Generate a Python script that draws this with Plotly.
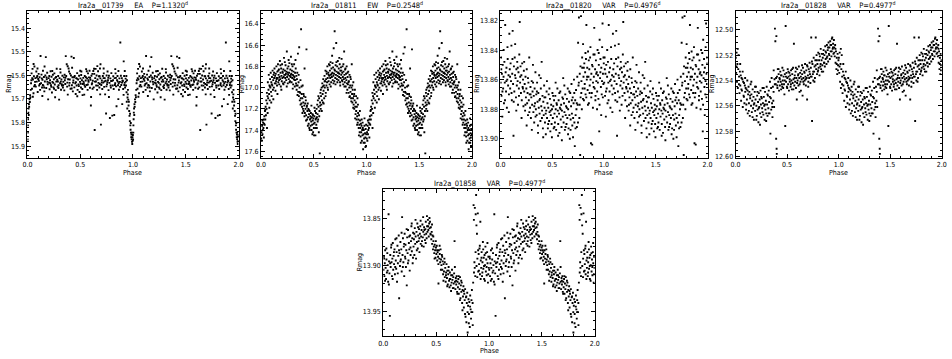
import plotly.graph_objects as go

W, H = 952, 359
FONT = "Liberation Sans Narrow, DejaVu Sans Condensed, Liberation Sans, sans-serif"

# folded light curves, one cycle each: (phase, R mag). plotted twice (phase 0-2)
lc_01739 = [
    (0.001, 15.872), (0.003, 15.843), (0.004, 15.812), (0.006, 15.786), (0.008, 15.758), (0.010, 15.741), (0.012, 15.768),
    (0.014, 15.723), (0.016, 15.734), (0.019, 15.702), (0.022, 15.713), (0.025, 15.684), (0.028, 15.693), (0.031, 15.662),
    (0.034, 15.634), (0.039, 15.592), (0.043, 15.657), (0.048, 15.573), (0.052, 15.618), (0.057, 15.676), (0.061, 15.604), (0.066, 15.563), (0.070, 15.641), (0.075, 15.612),
    (0.079, 15.648), (0.084, 15.584), (0.088, 15.627), (0.093, 15.603), (0.097, 15.671), (0.102, 15.616), (0.106, 15.594), (0.111, 15.643), (0.115, 15.608), (0.120, 15.662),
    (0.124, 15.518), (0.129, 15.633), (0.133, 15.597), (0.138, 15.652), (0.142, 15.619), (0.147, 15.581), (0.151, 15.644), (0.156, 15.607), (0.160, 15.668), (0.165, 15.626),
    (0.169, 15.601), (0.174, 15.523), (0.178, 15.654), (0.183, 15.617), (0.187, 15.589), (0.192, 15.638), (0.196, 15.702), (0.201, 15.612), (0.205, 15.631), (0.210, 15.659),
    (0.214, 15.621), (0.219, 15.583), (0.223, 15.642), (0.228, 15.606), (0.232, 15.673), (0.237, 15.628), (0.241, 15.598), (0.246, 15.651), (0.250, 15.617), (0.255, 15.592),
    (0.259, 15.639), (0.264, 15.611), (0.268, 15.663), (0.273, 15.627), (0.277, 15.572), (0.282, 15.619), (0.286, 15.648), (0.291, 15.603), (0.295, 15.642), (0.300, 15.703),
    (0.304, 15.612), (0.309, 15.634), (0.313, 15.588), (0.318, 15.661), (0.322, 15.618), (0.327, 15.643), (0.331, 15.602), (0.336, 15.652), (0.340, 15.628), (0.345, 15.609),
    (0.349, 15.664), (0.354, 15.621), (0.358, 15.637), (0.363, 15.519), (0.367, 15.603), (0.372, 15.553), (0.376, 15.648), (0.381, 15.562), (0.385, 15.617), (0.390, 15.571),
    (0.394, 15.584), (0.399, 15.632), (0.403, 15.593), (0.408, 15.657), (0.412, 15.601), (0.417, 15.521), (0.421, 15.642), (0.426, 15.608), (0.430, 15.668), (0.435, 15.622),
    (0.439, 15.527), (0.444, 15.651), (0.448, 15.603), (0.453, 15.634), (0.457, 15.679), (0.462, 15.612), (0.466, 15.643), (0.471, 15.591), (0.475, 15.662), (0.480, 15.618),
    (0.484, 15.639), (0.489, 15.602), (0.493, 15.671), (0.498, 15.628), (0.502, 15.613), (0.507, 15.652), (0.511, 15.584), (0.516, 15.621), (0.520, 15.658), (0.525, 15.637),
    (0.529, 15.611), (0.534, 15.634), (0.538, 15.682), (0.543, 15.603), (0.547, 15.649), (0.552, 15.622), (0.556, 15.574), (0.561, 15.641), (0.565, 15.613), (0.570, 15.662),
    (0.574, 15.592), (0.579, 15.628), (0.583, 15.609), (0.588, 15.581), (0.592, 15.653), (0.597, 15.619), (0.601, 15.728), (0.606, 15.602), (0.610, 15.638), (0.615, 15.594),
    (0.619, 15.623), (0.624, 15.582), (0.628, 15.651), (0.633, 15.594), (0.637, 15.832), (0.642, 15.612), (0.646, 15.573), (0.651, 15.643), (0.655, 15.601), (0.660, 15.662),
    (0.664, 15.618), (0.669, 15.583), (0.673, 15.632), (0.678, 15.604), (0.682, 15.652), (0.687, 15.571), (0.691, 15.613), (0.696, 15.809), (0.700, 15.641), (0.705, 15.622),
    (0.709, 15.658), (0.714, 15.603), (0.718, 15.631), (0.723, 15.592), (0.727, 15.649), (0.732, 15.612), (0.736, 15.681), (0.741, 15.623), (0.745, 15.762), (0.750, 15.601),
    (0.754, 15.638), (0.759, 15.584), (0.763, 15.621), (0.768, 15.663), (0.772, 15.602), (0.777, 15.632), (0.781, 15.781), (0.786, 15.613), (0.790, 15.652), (0.795, 15.591),
    (0.799, 15.624), (0.804, 15.771), (0.808, 15.643), (0.813, 15.604), (0.817, 15.658), (0.822, 15.768), (0.826, 15.612), (0.831, 15.634), (0.835, 15.592), (0.840, 15.647),
    (0.844, 15.731), (0.849, 15.621), (0.853, 15.603), (0.858, 15.642), (0.862, 15.582), (0.867, 15.661), (0.871, 15.613), (0.876, 15.628), (0.880, 15.461), (0.885, 15.602),
    (0.889, 15.641), (0.894, 15.612), (0.898, 15.722), (0.903, 15.624), (0.907, 15.658), (0.912, 15.541), (0.916, 15.603), (0.921, 15.632), (0.925, 15.652), (0.930, 15.614),
    (0.934, 15.643), (0.939, 15.672), (0.943, 15.621), (0.948, 15.694), (0.952, 15.662),
    (0.045, 15.612), (0.072, 15.628), (0.108, 15.623), (0.145, 15.641), (0.181, 15.609), (0.216, 15.634), (0.252, 15.657), (0.288, 15.626), (0.324, 15.638),
    (0.360, 15.611), (0.396, 15.643), (0.432, 15.631), (0.468, 15.614), (0.505, 15.636), (0.541, 15.642), (0.577, 15.621), (0.613, 15.633), (0.649, 15.626),
    (0.685, 15.637), (0.721, 15.612), (0.757, 15.629), (0.793, 15.624), (0.829, 15.641), (0.865, 15.634), (0.901, 15.622), (0.937, 15.603),
    (0.058, 15.552), (0.095, 15.571), (0.162, 15.563), (0.235, 15.582), (0.311, 15.574), (0.423, 15.568), (0.500, 15.581), (0.562, 15.583), (0.631, 15.572),
    (0.662, 15.561), (0.692, 15.553), (0.722, 15.571), (0.832, 15.574), (0.922, 15.582),
    (0.051, 15.691), (0.141, 15.688), (0.262, 15.693), (0.382, 15.682), (0.472, 15.689), (0.522, 15.684), (0.603, 15.692), (0.689, 15.681), (0.772, 15.692),
    (0.861, 15.701), (0.911, 15.683), (0.941, 15.712), (0.946, 15.741),
    (0.955, 15.703), (0.958, 15.728), (0.961, 15.712), (0.964, 15.751), (0.967, 15.772), (0.970, 15.794), (0.972, 15.763), (0.975, 15.812), (0.977, 15.831),
    (0.979, 15.802), (0.981, 15.843), (0.983, 15.862), (0.985, 15.851), (0.987, 15.871), (0.989, 15.843), (0.991, 15.882), (0.993, 15.891), (0.995, 15.862),
    (0.997, 15.878), (0.999, 15.853),
]
lc_01739_b = [
    (0.037, 15.621), (0.063, 15.647), (0.089, 15.609), (0.118, 15.637), (0.136, 15.613), (0.158, 15.652), (0.189, 15.628), (0.207, 15.603), (0.226, 15.649), (0.244, 15.632),
    (0.271, 15.607), (0.293, 15.654), (0.316, 15.627), (0.338, 15.642), (0.352, 15.598), (0.378, 15.631), (0.401, 15.618), (0.419, 15.656), (0.441, 15.608), (0.459, 15.629),
    (0.487, 15.646), (0.509, 15.599), (0.531, 15.627), (0.554, 15.608), (0.572, 15.639), (0.594, 15.611), (0.617, 15.657), (0.639, 15.627), (0.667, 15.644), (0.684, 15.604),
    (0.703, 15.631), (0.729, 15.626), (0.748, 15.647), (0.766, 15.611), (0.788, 15.643), (0.811, 15.621), (0.838, 15.611), (0.856, 15.627), (0.878, 15.649), (0.896, 15.631),
    (0.918, 15.641), (0.932, 15.627), (0.951, 15.681),
]

lc_01811 = [
    (0.002, 17.48), (0.005, 17.42), (0.008, 17.50), (0.011, 17.36), (0.014, 17.44), (0.017, 17.40), (0.020, 17.33), (0.023, 17.38), (0.026, 17.30), (0.029, 17.34),
    (0.032, 17.27), (0.035, 17.35), (0.038, 17.22), (0.041, 17.30), (0.044, 17.18), (0.047, 17.26), (0.050, 17.12), (0.053, 17.20), (0.056, 17.05), (0.059, 17.15),
    (0.062, 17.08), (0.065, 16.95), (0.068, 17.10), (0.071, 17.02), (0.074, 16.88), (0.077, 17.06), (0.080, 16.98), (0.083, 17.12), (0.086, 16.92), (0.089, 17.00),
    (0.092, 16.86), (0.095, 17.04), (0.098, 16.95), (0.101, 17.08), (0.104, 16.90), (0.107, 16.98), (0.110, 16.84), (0.113, 17.02), (0.116, 16.93), (0.119, 16.88),
    (0.122, 17.00), (0.125, 16.91), (0.128, 16.82), (0.131, 16.96), (0.134, 16.89), (0.137, 17.03), (0.140, 16.87), (0.143, 16.94), (0.146, 16.80), (0.149, 16.92),
    (0.152, 16.98), (0.155, 16.85), (0.158, 16.91), (0.161, 16.78), (0.164, 16.95), (0.167, 16.88), (0.170, 16.83), (0.173, 16.97), (0.176, 16.90), (0.179, 16.75),
    (0.182, 16.92), (0.185, 16.86), (0.188, 16.99), (0.191, 16.82), (0.194, 16.89), (0.197, 16.94), (0.200, 16.78), (0.203, 16.91), (0.206, 16.86), (0.209, 16.96),
    (0.212, 16.83), (0.215, 16.90), (0.218, 16.72), (0.221, 16.88), (0.224, 16.95), (0.227, 16.84), (0.230, 16.91), (0.233, 16.79), (0.236, 16.87), (0.239, 16.93),
    (0.242, 16.85), (0.245, 16.66), (0.248, 16.90), (0.251, 16.82), (0.254, 16.96), (0.257, 16.88), (0.260, 16.80), (0.263, 16.92), (0.266, 16.86), (0.269, 16.77),
    (0.272, 16.89), (0.275, 16.94), (0.278, 16.83), (0.281, 16.90), (0.284, 16.71), (0.287, 16.87), (0.290, 16.95), (0.293, 16.84), (0.296, 16.91), (0.299, 16.80),
    (0.302, 16.88), (0.305, 16.97), (0.308, 16.85), (0.311, 16.92), (0.314, 16.78), (0.317, 16.90), (0.320, 16.99), (0.323, 16.86), (0.326, 16.93), (0.329, 16.82),
    (0.332, 16.96), (0.335, 16.89), (0.338, 17.02), (0.341, 16.92), (0.344, 16.86), (0.347, 16.98), (0.350, 16.68), (0.353, 17.04), (0.356, 16.95), (0.359, 17.08),
    (0.362, 16.62), (0.365, 17.00), (0.368, 17.12), (0.371, 17.05), (0.374, 16.93), (0.377, 17.10), (0.380, 16.45), (0.383, 17.15), (0.386, 17.06), (0.389, 17.18),
    (0.392, 17.10), (0.395, 16.98), (0.398, 17.20), (0.401, 17.14), (0.404, 17.22), (0.407, 17.08), (0.410, 17.17), (0.413, 16.82), (0.416, 17.24), (0.419, 17.15),
    (0.422, 17.20), (0.425, 17.12), (0.428, 17.26), (0.431, 16.64), (0.434, 17.18), (0.437, 17.30), (0.440, 17.22), (0.443, 17.15), (0.446, 17.28), (0.449, 17.20),
    (0.452, 17.34), (0.455, 17.25), (0.458, 17.38), (0.461, 17.22), (0.464, 17.30), (0.467, 17.27), (0.470, 17.36), (0.473, 17.24), (0.476, 17.32), (0.479, 17.40),
    (0.482, 17.28), (0.485, 17.35), (0.488, 17.25), (0.491, 17.31), (0.494, 17.42), (0.497, 17.29), (0.500, 17.34), (0.503, 17.45), (0.506, 17.27), (0.509, 17.33),
    (0.512, 17.22), (0.515, 17.38), (0.518, 17.30), (0.521, 17.24), (0.524, 17.35), (0.527, 17.20), (0.530, 17.28), (0.533, 17.16), (0.536, 17.25), (0.539, 17.12),
    (0.542, 17.30), (0.545, 17.18), (0.548, 17.42), (0.551, 17.10), (0.554, 17.22), (0.557, 17.62), (0.560, 17.14), (0.563, 17.05), (0.566, 17.20), (0.569, 17.08),
    (0.572, 17.16), (0.575, 17.00), (0.578, 17.12), (0.581, 16.96), (0.584, 17.06), (0.587, 17.14), (0.590, 16.92), (0.593, 17.03), (0.596, 16.98), (0.599, 17.10),
    (0.602, 16.89), (0.605, 17.00), (0.608, 16.94), (0.611, 16.84), (0.614, 17.05), (0.617, 16.92), (0.620, 16.98), (0.623, 16.87), (0.626, 16.95), (0.629, 16.80),
    (0.632, 16.91), (0.635, 17.02), (0.638, 16.86), (0.641, 16.94), (0.644, 16.78), (0.647, 16.89), (0.650, 16.97), (0.653, 16.84), (0.656, 16.91), (0.659, 16.76),
    (0.662, 16.88), (0.665, 16.95), (0.668, 16.82), (0.671, 16.90), (0.674, 16.70), (0.677, 16.86), (0.680, 16.93), (0.683, 16.81), (0.686, 16.89), (0.689, 16.63),
    (0.692, 16.87), (0.695, 16.94), (0.698, 16.47), (0.701, 16.84), (0.704, 16.91), (0.707, 16.79), (0.710, 16.88), (0.713, 16.58), (0.716, 16.85), (0.719, 16.92),
    (0.722, 16.80), (0.725, 16.89), (0.728, 16.75), (0.731, 16.86), (0.734, 16.93), (0.737, 16.82), (0.740, 16.90), (0.743, 16.87), (0.746, 16.78), (0.749, 16.95),
    (0.752, 16.84), (0.755, 16.91), (0.758, 16.81), (0.761, 16.88), (0.764, 16.73), (0.767, 16.93), (0.770, 16.86), (0.773, 16.80), (0.776, 16.90), (0.779, 16.97),
    (0.782, 16.85), (0.785, 16.92), (0.788, 16.66), (0.791, 16.88), (0.794, 16.95), (0.797, 16.83), (0.800, 16.91), (0.803, 16.99), (0.806, 16.87), (0.809, 16.93),
    (0.812, 16.80), (0.815, 16.96), (0.818, 17.02), (0.821, 16.90), (0.824, 16.97), (0.827, 16.85), (0.830, 17.05), (0.833, 16.94), (0.836, 17.00), (0.839, 16.88),
    (0.842, 17.08), (0.845, 16.98), (0.848, 17.04), (0.851, 16.92), (0.854, 17.10), (0.857, 17.00), (0.860, 16.78), (0.863, 17.06), (0.866, 17.14), (0.869, 17.02),
    (0.872, 17.10), (0.875, 16.95), (0.878, 17.16), (0.881, 17.08), (0.884, 17.20), (0.887, 17.12), (0.890, 17.02), (0.893, 17.18), (0.896, 17.25), (0.899, 17.14),
    (0.902, 17.22), (0.905, 17.30), (0.908, 17.18), (0.911, 17.27), (0.914, 17.10), (0.917, 17.33), (0.920, 17.24), (0.923, 17.30), (0.926, 17.38), (0.929, 17.26),
    (0.932, 17.35), (0.935, 17.42), (0.938, 17.31), (0.941, 17.38), (0.944, 17.46), (0.947, 17.34), (0.950, 17.42), (0.953, 17.36), (0.956, 17.50), (0.959, 17.40),
    (0.962, 17.45), (0.965, 17.38), (0.968, 17.58), (0.971, 17.44), (0.974, 17.40), (0.977, 17.48), (0.980, 17.36), (0.983, 17.52), (0.986, 17.43), (0.989, 17.47),
    (0.992, 17.39), (0.995, 17.55), (0.998, 17.44),
]
lc_01811_b = [
    (0.013, 17.31), (0.027, 17.47), (0.041, 17.21), (0.057, 17.38), (0.063, 17.24), (0.079, 17.19), (0.085, 16.99), (0.097, 17.14), (0.103, 16.97), (0.117, 17.11),
    (0.124, 16.86), (0.139, 16.96), (0.147, 16.91), (0.156, 17.06), (0.163, 16.84), (0.171, 16.93), (0.184, 16.79), (0.193, 17.02), (0.204, 16.85), (0.213, 16.97),
    (0.226, 16.76), (0.231, 16.88), (0.244, 16.99), (0.253, 16.86), (0.262, 16.74), (0.271, 16.95), (0.283, 16.88), (0.292, 16.78), (0.301, 17.01), (0.309, 16.89),
    (0.318, 16.93), (0.327, 16.74), (0.336, 16.98), (0.346, 17.07), (0.357, 16.88), (0.366, 17.04), (0.375, 17.16), (0.384, 16.99), (0.393, 17.24), (0.403, 17.06),
    (0.412, 17.27), (0.421, 17.09), (0.427, 17.31), (0.436, 17.17), (0.444, 17.36), (0.453, 17.21), (0.462, 17.40), (0.471, 17.29), (0.478, 17.17), (0.487, 17.44),
    (0.493, 17.26), (0.501, 17.38), (0.507, 17.19), (0.516, 17.45), (0.522, 17.29), (0.529, 17.38), (0.537, 17.32), (0.544, 17.08), (0.552, 17.27), (0.561, 17.17),
    (0.567, 17.02), (0.576, 17.22), (0.586, 16.99), (0.594, 17.15), (0.603, 16.94), (0.612, 17.08), (0.621, 16.85), (0.631, 17.00), (0.642, 16.88), (0.651, 16.79),
    (0.661, 16.99), (0.669, 16.87), (0.678, 16.77), (0.687, 16.96), (0.696, 16.83), (0.706, 16.97), (0.715, 16.76), (0.724, 16.95), (0.733, 16.86), (0.742, 16.72),
    (0.751, 16.98), (0.761, 16.84), (0.771, 16.94), (0.781, 16.78), (0.791, 16.99), (0.801, 16.82), (0.811, 17.05), (0.820, 16.86), (0.829, 16.95), (0.838, 17.09),
    (0.847, 16.90), (0.856, 17.13), (0.865, 16.98), (0.874, 17.19), (0.883, 17.06), (0.892, 17.29), (0.901, 17.08), (0.911, 17.35), (0.919, 17.16), (0.928, 17.45),
    (0.937, 17.22), (0.946, 17.52), (0.954, 17.30), (0.963, 17.33), (0.972, 17.52), (0.981, 17.29), (0.990, 17.56), (0.996, 17.35),
]

lc_01820 = [
    (0.002, 13.862), (0.006, 13.845), (0.010, 13.871), (0.014, 13.856), (0.018, 13.885), (0.022, 13.850), (0.026, 13.866), (0.030, 13.858), (0.034, 13.876), (0.038, 13.848),
    (0.042, 13.862), (0.046, 13.823), (0.050, 13.855), (0.054, 13.868), (0.058, 13.852), (0.062, 13.879), (0.066, 13.860), (0.070, 13.846), (0.074, 13.864), (0.078, 13.857),
    (0.082, 13.870), (0.086, 13.829), (0.090, 13.853), (0.094, 13.866), (0.098, 13.849), (0.102, 13.861), (0.106, 13.837), (0.110, 13.874), (0.114, 13.856), (0.118, 13.827),
    (0.122, 13.863), (0.126, 13.898), (0.130, 13.851), (0.134, 13.868), (0.138, 13.845), (0.142, 13.836), (0.146, 13.859), (0.150, 13.872), (0.154, 13.853), (0.158, 13.864),
    (0.162, 13.848), (0.166, 13.861), (0.170, 13.877), (0.174, 13.855), (0.178, 13.866), (0.182, 13.843), (0.186, 13.821), (0.190, 13.862), (0.194, 13.851), (0.198, 13.869),
    (0.202, 13.857), (0.206, 13.874), (0.210, 13.849), (0.214, 13.865), (0.218, 13.860), (0.222, 13.878), (0.226, 13.854), (0.230, 13.868), (0.234, 13.863), (0.238, 13.881),
    (0.242, 13.858), (0.246, 13.872), (0.250, 13.866), (0.254, 13.853), (0.258, 13.876), (0.262, 13.869), (0.266, 13.884), (0.270, 13.862), (0.274, 13.874), (0.278, 13.845),
    (0.282, 13.870), (0.286, 13.879), (0.290, 13.865), (0.294, 13.886), (0.298, 13.872), (0.302, 13.861), (0.306, 13.877), (0.310, 13.868), (0.314, 13.850), (0.318, 13.882),
    (0.322, 13.871), (0.326, 13.889), (0.330, 13.866), (0.334, 13.876), (0.338, 13.855), (0.342, 13.880), (0.346, 13.870), (0.350, 13.884), (0.354, 13.862), (0.358, 13.875),
    (0.362, 13.891), (0.366, 13.869), (0.370, 13.879), (0.374, 13.857), (0.378, 13.883), (0.382, 13.873), (0.386, 13.888), (0.390, 13.866), (0.394, 13.878), (0.398, 13.848),
    (0.402, 13.881), (0.406, 13.871), (0.410, 13.893), (0.414, 13.875), (0.418, 13.884), (0.422, 13.864), (0.426, 13.879), (0.430, 13.889), (0.434, 13.872), (0.438, 13.897),
    (0.442, 13.881), (0.446, 13.868), (0.450, 13.886), (0.454, 13.876), (0.458, 13.893), (0.462, 13.879), (0.466, 13.870), (0.470, 13.888), (0.474, 13.882), (0.478, 13.873),
    (0.482, 13.895), (0.486, 13.884), (0.490, 13.877), (0.494, 13.890), (0.498, 13.880), (0.502, 13.869), (0.506, 13.886), (0.510, 13.878), (0.514, 13.893), (0.518, 13.874),
    (0.522, 13.883), (0.526, 13.889), (0.530, 13.871), (0.534, 13.880), (0.538, 13.894), (0.542, 13.876), (0.546, 13.885), (0.550, 13.866), (0.554, 13.881), (0.558, 13.890),
    (0.562, 13.874), (0.566, 13.883), (0.570, 13.896), (0.574, 13.879), (0.578, 13.868), (0.582, 13.887), (0.586, 13.877), (0.590, 13.892), (0.594, 13.881), (0.598, 13.872),
    (0.602, 13.885), (0.606, 13.859), (0.610, 13.889), (0.614, 13.876), (0.618, 13.882), (0.622, 13.894), (0.626, 13.870), (0.630, 13.884), (0.634, 13.878), (0.638, 13.890),
    (0.642, 13.873), (0.646, 13.886), (0.650, 13.866), (0.654, 13.880), (0.658, 13.893), (0.662, 13.875), (0.666, 13.884), (0.670, 13.900), (0.674, 13.869), (0.678, 13.887),
    (0.682, 13.878), (0.686, 13.863), (0.690, 13.883), (0.694, 13.891), (0.698, 13.872), (0.702, 13.886), (0.706, 13.876), (0.710, 13.860), (0.714, 13.889), (0.718, 13.905),
    (0.722, 13.874), (0.726, 13.884), (0.730, 13.867), (0.734, 13.880), (0.738, 13.892), (0.742, 13.858), (0.746, 13.877), (0.750, 13.835), (0.754, 13.864), (0.758, 13.818),
    (0.762, 13.886), (0.766, 13.856), (0.770, 13.911), (0.774, 13.872), (0.778, 13.817), (0.782, 13.861), (0.786, 13.880), (0.790, 13.852), (0.794, 13.866), (0.798, 13.836),
    (0.802, 13.858), (0.806, 13.874), (0.810, 13.849), (0.814, 13.863), (0.818, 13.855), (0.822, 13.870), (0.826, 13.846), (0.830, 13.823), (0.834, 13.860), (0.838, 13.852),
    (0.842, 13.867), (0.846, 13.841), (0.850, 13.858), (0.854, 13.876), (0.858, 13.853), (0.862, 13.864), (0.866, 13.845), (0.870, 13.860), (0.874, 13.903), (0.878, 13.856),
    (0.882, 13.869), (0.886, 13.904), (0.890, 13.851), (0.894, 13.862), (0.898, 13.843), (0.902, 13.858), (0.906, 13.825), (0.910, 13.866), (0.914, 13.853), (0.918, 13.871),
    (0.922, 13.847), (0.926, 13.861), (0.930, 13.855), (0.934, 13.868), (0.938, 13.840), (0.942, 13.857), (0.946, 13.873), (0.950, 13.850), (0.954, 13.895), (0.958, 13.833),
    (0.962, 13.859), (0.966, 13.846), (0.970, 13.865), (0.974, 13.852), (0.978, 13.870), (0.982, 13.838), (0.986, 13.822), (0.990, 13.856), (0.994, 13.863), (0.998, 13.849),
]
lc_01820_b = [
    (0.008, 13.853), (0.019, 13.868), (0.031, 13.840), (0.044, 13.874), (0.057, 13.861), (0.068, 13.838), (0.081, 13.882), (0.093, 13.858), (0.107, 13.869), (0.116, 13.846),
    (0.128, 13.875), (0.141, 13.857), (0.153, 13.881), (0.167, 13.852), (0.179, 13.871), (0.191, 13.858), (0.204, 13.886), (0.217, 13.866), (0.229, 13.848), (0.241, 13.877),
    (0.253, 13.891), (0.266, 13.859), (0.279, 13.882), (0.291, 13.870), (0.303, 13.894), (0.315, 13.862), (0.327, 13.878), (0.339, 13.885), (0.352, 13.868), (0.363, 13.896),
    (0.376, 13.874), (0.389, 13.859), (0.401, 13.886), (0.413, 13.899), (0.425, 13.872), (0.437, 13.883), (0.449, 13.861), (0.461, 13.890), (0.473, 13.866), (0.485, 13.881),
    (0.497, 13.899), (0.509, 13.871), (0.521, 13.892), (0.533, 13.862), (0.545, 13.877), (0.557, 13.898), (0.569, 13.869), (0.581, 13.880), (0.593, 13.901), (0.605, 13.873),
    (0.617, 13.864), (0.629, 13.892), (0.641, 13.879), (0.653, 13.897), (0.665, 13.868), (0.677, 13.894), (0.689, 13.874), (0.701, 13.899), (0.713, 13.869), (0.725, 13.893),
    (0.737, 13.876), (0.749, 13.889), (0.757, 13.862), (0.765, 13.877), (0.773, 13.851), (0.781, 13.869), (0.789, 13.845), (0.797, 13.873), (0.805, 13.852), (0.813, 13.866),
    (0.821, 13.842), (0.829, 13.872), (0.837, 13.858), (0.845, 13.877), (0.853, 13.847), (0.861, 13.869), (0.869, 13.838), (0.877, 13.872), (0.885, 13.850), (0.893, 13.879),
    (0.901, 13.865), (0.909, 13.843), (0.917, 13.874), (0.925, 13.856), (0.933, 13.880), (0.941, 13.862), (0.949, 13.842), (0.957, 13.877), (0.965, 13.855), (0.973, 13.884),
    (0.981, 13.861), (0.989, 13.872), (0.995, 13.845),
]

lc_01828 = [
    (0.002, 12.522), (0.006, 12.534), (0.010, 12.518), (0.014, 12.541), (0.018, 12.527), (0.022, 12.546), (0.026, 12.531), (0.030, 12.520), (0.034, 12.537), (0.038, 12.550),
    (0.042, 12.533), (0.046, 12.544), (0.050, 12.536), (0.054, 12.556), (0.058, 12.538), (0.062, 12.548), (0.066, 12.539), (0.070, 12.561), (0.074, 12.541), (0.078, 12.552),
    (0.082, 12.542), (0.086, 12.558), (0.090, 12.544), (0.094, 12.549), (0.098, 12.546), (0.102, 12.563), (0.106, 12.547), (0.110, 12.555), (0.114, 12.540), (0.118, 12.566),
    (0.122, 12.551), (0.126, 12.545), (0.130, 12.558), (0.134, 12.549), (0.138, 12.568), (0.142, 12.554), (0.146, 12.543), (0.150, 12.560), (0.154, 12.551), (0.158, 12.565),
    (0.162, 12.556), (0.166, 12.547), (0.170, 12.562), (0.174, 12.553), (0.178, 12.571), (0.182, 12.558), (0.186, 12.549), (0.190, 12.564), (0.194, 12.555), (0.198, 12.545),
    (0.202, 12.560), (0.206, 12.568), (0.210, 12.552), (0.214, 12.563), (0.218, 12.557), (0.222, 12.573), (0.226, 12.550), (0.230, 12.561), (0.234, 12.555), (0.238, 12.566),
    (0.242, 12.548), (0.246, 12.559), (0.250, 12.569), (0.254, 12.554), (0.258, 12.562), (0.262, 12.546), (0.266, 12.558), (0.270, 12.567), (0.274, 12.553), (0.278, 12.560),
    (0.282, 12.571), (0.286, 12.549), (0.290, 12.563), (0.294, 12.556), (0.298, 12.566), (0.302, 12.545), (0.306, 12.559), (0.310, 12.568), (0.314, 12.552), (0.318, 12.562),
    (0.322, 12.548), (0.326, 12.557), (0.330, 12.566), (0.334, 12.541), (0.338, 12.582), (0.342, 12.554), (0.346, 12.563), (0.350, 12.538), (0.354, 12.558), (0.358, 12.569),
    (0.362, 12.545), (0.366, 12.556), (0.370, 12.532), (0.374, 12.561), (0.378, 12.539), (0.382, 12.499), (0.386, 12.509), (0.390, 12.543), (0.394, 12.586), (0.396, 12.505),
    (0.398, 12.594), (0.400, 12.598), (0.402, 12.537), (0.406, 12.546), (0.410, 12.531), (0.414, 12.541), (0.418, 12.535), (0.422, 12.548), (0.426, 12.538), (0.430, 12.544),
    (0.434, 12.533), (0.438, 12.541), (0.442, 12.547), (0.446, 12.536), (0.450, 12.543), (0.454, 12.530), (0.458, 12.540), (0.462, 12.546), (0.466, 12.537), (0.470, 12.543),
    (0.474, 12.551), (0.478, 12.535), (0.482, 12.576), (0.486, 12.497), (0.490, 12.541), (0.494, 12.534), (0.498, 12.545), (0.502, 12.538), (0.506, 12.531), (0.510, 12.543),
    (0.514, 12.537), (0.518, 12.548), (0.522, 12.534), (0.526, 12.541), (0.530, 12.536), (0.534, 12.545), (0.538, 12.532), (0.542, 12.540), (0.546, 12.547), (0.550, 12.535),
    (0.554, 12.542), (0.558, 12.530), (0.562, 12.539), (0.566, 12.511), (0.570, 12.544), (0.574, 12.536), (0.578, 12.541), (0.582, 12.533), (0.586, 12.546), (0.590, 12.538),
    (0.594, 12.555), (0.598, 12.531), (0.602, 12.540), (0.606, 12.536), (0.610, 12.544), (0.614, 12.529), (0.618, 12.538), (0.622, 12.543), (0.626, 12.534), (0.630, 12.541),
    (0.634, 12.548), (0.638, 12.532), (0.642, 12.539), (0.646, 12.535), (0.650, 12.552), (0.654, 12.530), (0.658, 12.538), (0.662, 12.543), (0.666, 12.533), (0.670, 12.540),
    (0.674, 12.527), (0.678, 12.537), (0.682, 12.544), (0.686, 12.532), (0.690, 12.538), (0.694, 12.555), (0.698, 12.529), (0.702, 12.536), (0.706, 12.541), (0.710, 12.531),
    (0.714, 12.538), (0.718, 12.526), (0.722, 12.535), (0.726, 12.542), (0.730, 12.530), (0.734, 12.506), (0.738, 12.537), (0.742, 12.572), (0.746, 12.527), (0.750, 12.535),
    (0.754, 12.540), (0.758, 12.522), (0.762, 12.533), (0.766, 12.529), (0.770, 12.538), (0.774, 12.524), (0.778, 12.506), (0.782, 12.531), (0.786, 12.520), (0.790, 12.535),
    (0.794, 12.527), (0.798, 12.533), (0.802, 12.518), (0.806, 12.530), (0.810, 12.524), (0.814, 12.536), (0.818, 12.521), (0.822, 12.529), (0.826, 12.515), (0.830, 12.531),
    (0.834, 12.524), (0.838, 12.519), (0.842, 12.528), (0.846, 12.522), (0.850, 12.533), (0.854, 12.516), (0.858, 12.526), (0.862, 12.520), (0.866, 12.529), (0.870, 12.513),
    (0.874, 12.523), (0.878, 12.518), (0.882, 12.527), (0.886, 12.512), (0.890, 12.521), (0.894, 12.516), (0.898, 12.525), (0.902, 12.510), (0.906, 12.519), (0.910, 12.514),
    (0.914, 12.523), (0.918, 12.509), (0.922, 12.517), (0.926, 12.512), (0.930, 12.521), (0.934, 12.507), (0.938, 12.506), (0.942, 12.515), (0.946, 12.511), (0.950, 12.519),
    (0.954, 12.508), (0.958, 12.514), (0.962, 12.521), (0.966, 12.512), (0.970, 12.526), (0.974, 12.517), (0.978, 12.531), (0.982, 12.522), (0.986, 12.535), (0.990, 12.519),
    (0.994, 12.528), (0.998, 12.524),
]
lc_01828_b = [
    (0.009, 12.529), (0.021, 12.515), (0.033, 12.543), (0.045, 12.527), (0.057, 12.547), (0.069, 12.533), (0.081, 12.553), (0.093, 12.538), (0.105, 12.559), (0.117, 12.548),
    (0.129, 12.564), (0.141, 12.552), (0.153, 12.541), (0.165, 12.569), (0.177, 12.559), (0.189, 12.545), (0.201, 12.571), (0.213, 12.549), (0.225, 12.562), (0.237, 12.575),
    (0.249, 12.553), (0.261, 12.565), (0.273, 12.546), (0.285, 12.559), (0.297, 12.572), (0.309, 12.551), (0.321, 12.566), (0.333, 12.553), (0.345, 12.546), (0.357, 12.561),
    (0.369, 12.549), (0.381, 12.543), (0.393, 12.538), (0.405, 12.544), (0.417, 12.531), (0.429, 12.539), (0.441, 12.536), (0.453, 12.545), (0.465, 12.532), (0.477, 12.540),
    (0.489, 12.537), (0.501, 12.546), (0.513, 12.533), (0.525, 12.539), (0.537, 12.543), (0.549, 12.531), (0.561, 12.547), (0.573, 12.538), (0.585, 12.530), (0.597, 12.542),
    (0.609, 12.535), (0.621, 12.549), (0.633, 12.537), (0.645, 12.528), (0.657, 12.541), (0.669, 12.534), (0.681, 12.539), (0.693, 12.528), (0.705, 12.545), (0.717, 12.533),
    (0.729, 12.537), (0.741, 12.525), (0.753, 12.533), (0.765, 12.541), (0.777, 12.528), (0.789, 12.524), (0.801, 12.532), (0.813, 12.519), (0.825, 12.527), (0.837, 12.533),
    (0.849, 12.519), (0.861, 12.526), (0.873, 12.517), (0.885, 12.522), (0.897, 12.514), (0.909, 12.520), (0.921, 12.512), (0.933, 12.517), (0.945, 12.514), (0.957, 12.518),
    (0.969, 12.515), (0.981, 12.527), (0.993, 12.532),
]

lc_01858 = [
    (0.002, 13.905), (0.006, 13.891), (0.010, 13.912), (0.014, 13.898), (0.018, 13.884), (0.022, 13.903), (0.026, 13.915), (0.030, 13.894), (0.034, 13.908), (0.038, 13.887),
    (0.042, 13.900), (0.046, 13.918), (0.050, 13.845), (0.054, 13.896), (0.058, 13.909), (0.062, 13.955), (0.066, 13.889), (0.070, 13.902), (0.074, 13.881), (0.078, 13.897),
    (0.082, 13.912), (0.086, 13.893), (0.090, 13.876), (0.094, 13.905), (0.098, 13.890), (0.102, 13.899), (0.106, 13.883), (0.110, 13.910), (0.114, 13.872), (0.118, 13.895),
    (0.122, 13.904), (0.126, 13.886), (0.130, 13.918), (0.134, 13.879), (0.138, 13.898), (0.142, 13.890), (0.146, 13.868), (0.150, 13.936), (0.154, 13.887), (0.158, 13.901),
    (0.162, 13.875), (0.166, 13.894), (0.170, 13.883), (0.174, 13.907), (0.178, 13.848), (0.182, 13.889), (0.186, 13.871), (0.190, 13.897), (0.194, 13.880), (0.198, 13.912),
    (0.202, 13.866), (0.206, 13.891), (0.210, 13.878), (0.214, 13.902), (0.218, 13.884), (0.222, 13.922), (0.226, 13.870), (0.230, 13.887), (0.234, 13.862), (0.238, 13.895),
    (0.242, 13.876), (0.246, 13.883), (0.250, 13.906), (0.254, 13.868), (0.258, 13.889), (0.262, 13.874), (0.266, 13.858), (0.270, 13.885), (0.274, 13.871), (0.278, 13.898),
    (0.282, 13.865), (0.286, 13.880), (0.290, 13.872), (0.294, 13.889), (0.298, 13.860), (0.302, 13.877), (0.306, 13.869), (0.310, 13.893), (0.314, 13.864), (0.318, 13.875),
    (0.322, 13.855), (0.326, 13.882), (0.330, 13.868), (0.334, 13.874), (0.338, 13.861), (0.342, 13.886), (0.346, 13.866), (0.350, 13.858), (0.354, 13.877), (0.358, 13.869),
    (0.362, 13.862), (0.366, 13.874), (0.370, 13.856), (0.374, 13.870), (0.378, 13.864), (0.382, 13.880), (0.386, 13.859), (0.390, 13.867), (0.394, 13.873), (0.398, 13.861),
    (0.402, 13.853), (0.406, 13.866), (0.410, 13.871), (0.414, 13.858), (0.418, 13.864), (0.422, 13.851), (0.426, 13.862), (0.430, 13.869), (0.434, 13.855), (0.438, 13.860),
    (0.442, 13.853), (0.446, 13.866), (0.450, 13.859), (0.454, 13.872), (0.458, 13.864), (0.462, 13.877), (0.466, 13.868), (0.470, 13.883), (0.474, 13.874), (0.478, 13.880),
    (0.482, 13.887), (0.486, 13.878), (0.490, 13.884), (0.494, 13.892), (0.498, 13.881), (0.502, 13.888), (0.506, 13.879), (0.510, 13.895), (0.514, 13.886), (0.518, 13.891),
    (0.522, 13.920), (0.526, 13.884), (0.530, 13.893), (0.534, 13.888), (0.538, 13.897), (0.542, 13.883), (0.546, 13.894), (0.550, 13.900), (0.554, 13.889), (0.558, 13.905),
    (0.562, 13.896), (0.566, 13.910), (0.570, 13.899), (0.574, 13.907), (0.578, 13.893), (0.582, 13.913), (0.586, 13.903), (0.590, 13.918), (0.594, 13.908), (0.598, 13.899),
    (0.602, 13.914), (0.606, 13.906), (0.610, 13.921), (0.614, 13.910), (0.618, 13.902), (0.622, 13.917), (0.626, 13.924), (0.630, 13.908), (0.634, 13.915), (0.638, 13.922),
    (0.642, 13.911), (0.646, 13.919), (0.650, 13.905), (0.654, 13.916), (0.658, 13.925), (0.662, 13.913), (0.666, 13.920), (0.670, 13.909), (0.674, 13.874), (0.678, 13.918),
    (0.682, 13.926), (0.686, 13.914), (0.690, 13.921), (0.694, 13.912), (0.698, 13.929), (0.702, 13.918), (0.706, 13.924), (0.710, 13.915), (0.714, 13.931), (0.718, 13.920),
    (0.722, 13.926), (0.726, 13.913), (0.730, 13.936), (0.734, 13.922), (0.738, 13.929), (0.742, 13.919), (0.746, 13.941), (0.750, 13.927), (0.754, 13.934), (0.758, 13.923),
    (0.762, 13.946), (0.766, 13.931), (0.770, 13.938), (0.774, 13.926), (0.778, 13.956), (0.782, 13.935), (0.786, 13.962), (0.790, 13.941), (0.794, 13.930), (0.798, 13.973),
    (0.802, 13.944), (0.806, 13.937), (0.810, 13.953), (0.814, 13.940), (0.818, 13.967), (0.822, 13.933), (0.826, 13.948), (0.830, 13.958), (0.834, 13.938), (0.838, 13.927),
    (0.842, 13.951), (0.846, 13.965), (0.850, 13.919), (0.854, 13.835), (0.858, 13.908), (0.862, 13.897), (0.866, 13.838), (0.870, 13.912), (0.874, 13.845), (0.878, 13.824),
    (0.882, 13.901), (0.886, 13.866), (0.890, 13.893), (0.894, 13.844), (0.898, 13.907), (0.902, 13.888), (0.906, 13.899), (0.910, 13.882), (0.914, 13.910), (0.918, 13.853),
    (0.922, 13.895), (0.926, 13.903), (0.930, 13.886), (0.934, 13.912), (0.938, 13.897), (0.942, 13.875), (0.946, 13.904), (0.950, 13.892), (0.954, 13.915), (0.958, 13.889),
    (0.962, 13.900), (0.966, 13.880), (0.970, 13.907), (0.974, 13.894), (0.978, 13.911), (0.982, 13.886), (0.986, 13.898), (0.990, 13.919), (0.994, 13.891), (0.998, 13.903),
]
lc_01858_b = [
    (0.008, 13.893), (0.017, 13.917), (0.029, 13.882), (0.041, 13.906), (0.053, 13.921), (0.065, 13.898), (0.077, 13.878), (0.089, 13.915), (0.101, 13.886), (0.113, 13.902),
    (0.125, 13.871), (0.137, 13.909), (0.149, 13.884), (0.161, 13.896), (0.173, 13.865), (0.185, 13.902), (0.197, 13.877), (0.209, 13.893), (0.221, 13.861), (0.233, 13.898),
    (0.245, 13.869), (0.257, 13.881), (0.269, 13.855), (0.281, 13.892), (0.293, 13.866), (0.305, 13.851), (0.317, 13.884), (0.329, 13.859), (0.341, 13.871), (0.353, 13.852),
    (0.365, 13.879), (0.377, 13.848), (0.389, 13.862), (0.401, 13.876), (0.413, 13.847), (0.425, 13.858), (0.437, 13.849), (0.449, 13.867), (0.461, 13.856), (0.473, 13.869),
    (0.485, 13.893), (0.497, 13.874), (0.509, 13.884), (0.521, 13.899), (0.533, 13.879), (0.545, 13.905), (0.557, 13.891), (0.569, 13.917), (0.581, 13.897), (0.593, 13.911),
    (0.605, 13.923), (0.617, 13.906), (0.629, 13.915), (0.641, 13.928), (0.653, 13.911), (0.665, 13.925), (0.677, 13.902), (0.689, 13.917), (0.701, 13.931), (0.713, 13.912),
    (0.725, 13.938), (0.737, 13.917), (0.749, 13.949), (0.761, 13.928), (0.773, 13.953), (0.785, 13.934), (0.797, 13.951), (0.809, 13.963), (0.821, 13.945), (0.833, 13.951),
    (0.845, 13.941), (0.857, 13.851), (0.865, 13.903), (0.873, 13.886), (0.881, 13.857), (0.889, 13.913), (0.897, 13.884), (0.905, 13.906), (0.913, 13.879), (0.921, 13.915),
    (0.929, 13.892), (0.937, 13.908), (0.945, 13.883), (0.953, 13.901), (0.961, 13.917), (0.969, 13.887), (0.977, 13.902), (0.985, 13.876), (0.993, 13.910),
]

curves = [lc_01739 + lc_01739_b, lc_01811 + lc_01811_b, lc_01820 + lc_01820_b,
          lc_01828 + lc_01828_b, lc_01858 + lc_01858_b]
names = ["Ira2a__01739", "Ira2a__01811", "Ira2a__01820", "Ira2a__01828", "Ira2a_01858"]
var_types = ["EA", "EW", "VAR", "VAR", "VAR"]
periods = ["1.1320", "0.2548", "0.4976", "0.4977", "0.4977"]

x_ticks = [0.0, 0.5, 1.0, 1.5, 2.0]
y_ranges = [[15.949, 15.326], [17.66, 16.275], [13.9128, 13.8133], [12.601, 12.4848], [13.977, 13.818]]
y_ticks = [
    [15.4, 15.5, 15.6, 15.7, 15.8, 15.9],
    [16.4, 16.6, 16.8, 17.0, 17.2, 17.4, 17.6],
    [13.82, 13.84, 13.86, 13.88, 13.90],
    [12.50, 12.52, 12.54, 12.56, 12.58, 12.60],
    [13.85, 13.90, 13.95],
]
y_fmt = [".1f", ".1f", ".2f", ".2f", ".2f"]
y_minor = [0.02, 0.05, 0.005, 0.005, 0.01]

# plot frames in pixels: left, right, top, bottom
boxes = [
    (22.7, 236.0, 10.7, 159.0),
    (258.7, 472.0, 10.7, 159.0),
    (500.7, 710.0, 10.7, 159.0),
    (738.3, 946.7, 10.7, 159.0),
    (382.3, 596.0, 191.0, 339.0),
]
rmag_offset = [19, 19, 24, 24, 24]

SP = "\u00a0"
fig = go.Figure()
annotations = []

for i, pts in enumerate(curves):
    ph = [p for p, m in pts]
    mg = [m for p, m in pts]
    sfx = "" if i == 0 else str(i + 1)
    fig.add_trace(go.Scatter(
        x=ph + [p + 1 for p in ph], y=mg + mg,
        mode="markers", xaxis="x" + sfx, yaxis="y" + sfx,
        marker=dict(symbol="square", size=1.9, color="black", line=dict(width=0)),
        showlegend=False, hoverinfo="skip"))

    x0, x1, y0, y1 = boxes[i]
    common = dict(showline=True, linecolor="black", linewidth=1, mirror="allticks",
                  ticks="inside", ticklen=4, tickwidth=1, tickcolor="black",
                  showgrid=False, zeroline=False,
                  tickfont=dict(family=FONT, size=7, color="black"))
    fig.layout["xaxis" + sfx] = dict(
        domain=[x0 / W, x1 / W], anchor="y" + sfx, range=[0, 2],
        tickvals=x_ticks, tickformat=".1f",
        minor=dict(ticks="inside", ticklen=2, dtick=0.1, tick0=0, tickcolor="black"),
        **common)
    fig.layout["yaxis" + sfx] = dict(
        domain=[1 - y1 / H, 1 - y0 / H], anchor="x" + sfx, range=y_ranges[i],
        tickvals=y_ticks[i], tickformat=y_fmt[i],
        minor=dict(ticks="inside", ticklen=2, dtick=y_minor[i], tickcolor="black"),
        **common)

    cx = (x0 + x1) / 2
    title = f"{names[i]}{SP * 5}{var_types[i]}{SP * 4}P={periods[i]}<sup>d</sup>"
    annotations.append(dict(text=title, x=cx / W, y=1 - (y0 - 6) / H, xref="paper", yref="paper",
                            xanchor="center", yanchor="middle", showarrow=False,
                            font=dict(family=FONT, size=7.5, color="black")))
    annotations.append(dict(text="Phase", x=cx / W, y=1 - (y1 + 15) / H, xref="paper", yref="paper",
                            xanchor="center", yanchor="middle", showarrow=False,
                            font=dict(family=FONT, size=7, color="black")))
    annotations.append(dict(text="Rmag", x=(x0 - rmag_offset[i]) / W, y=1 - (y0 + y1) / 2 / H,
                            xref="paper", yref="paper", xanchor="center", yanchor="middle",
                            textangle=-90, showarrow=False,
                            font=dict(family=FONT, size=7, color="black")))

fig.update_layout(width=W, height=H, margin=dict(l=0, r=0, t=0, b=0),
                  paper_bgcolor="white", plot_bgcolor="white",
                  annotations=annotations, showlegend=False)

fig.write_html("out.html", config={"displayModeBar": False},
               post_script="document.body.style.margin='0';")
